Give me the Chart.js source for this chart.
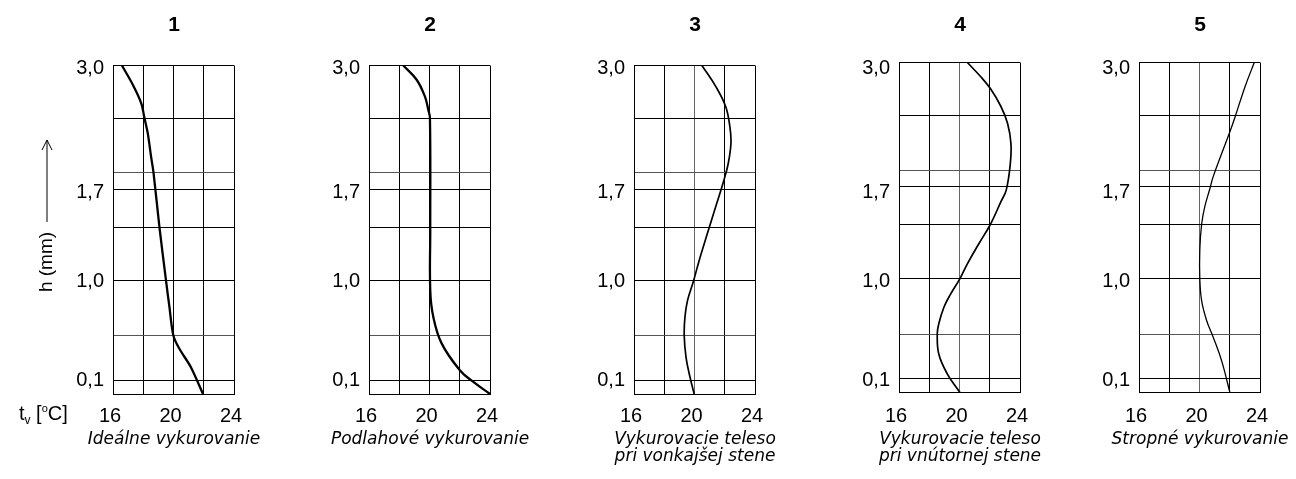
<!DOCTYPE html>
<html>
<head>
<meta charset="utf-8">
<script src="https://cdn.jsdelivr.net/npm/chart.js@4.4.1/dist/chart.umd.min.js"></script>
<style>
  html, body { margin: 0; padding: 0; background: #fff; }
  #wrap { position: relative; width: 1296px; height: 479px; overflow: hidden; background: #fff; }
  #wrap canvas { position: absolute; top: 0; }
  .txt { position: absolute; font-family: 'Liberation Sans', Arial, sans-serif; color: #000; white-space: nowrap; filter: grayscale(1); }
  .txt sub { font-size: 12px; vertical-align: -4px; line-height: 0; }
  .txt sup { font-size: 11px; vertical-align: 8px; line-height: 0; }
</style>
</head>
<body>
<div id="wrap">
  <div class="txt" id="tempLabel" style="left:19px; top:403px; font-size:20px; line-height:20px;">t<sub>v</sub> [<sup>o</sup>C]</div>
  <div class="txt" id="heightLabel" style="left:46px; top:262px; font-size:19px; line-height:20px; transform: translate(-50%, -50%) rotate(-90deg);">h (mm)</div>
  <svg style="position:absolute; left:37px; top:136px;" width="20" height="90">
    <line x1="10" y1="86" x2="10" y2="4" stroke="#000" stroke-width="1"/>
    <polyline points="5,14 10,4 15,14" fill="none" stroke="#000" stroke-width="1"/>
  </svg>
</div>
<script>
// ---- data ----------------------------------------------------------
// temperature axis t_v [°C]
const tempGrid = [16, 18, 20, 22, 24];
const tempLabels = [16, 20, 24];

// height axis: rows of the drawing grid (0 = floor, 6 = ceiling)
const gridRows = [0, 0.25, 1.06, 2.07, 3.05, 3.74, 4.04, 5.03, 6];
const lightRows = [1.06, 4.04];
const heightLabelRows = [0.25, 2.06, 3.68, 5.95];
const heightLabels = ['0,1', '1,0', '1,7', '3,0'];

const panelNumbers = ['1', '2', '3', '4', '5'];
const panelCaptions = [
  ['Ideálne vykurovanie'],
  ['Podlahové vykurovanie'],
  ['Vykurovacie teleso', 'pri vonkajšej stene'],
  ['Vykurovacie teleso', 'pri vnútornej stene'],
  ['Stropné vykurovanie']
];

// 1 – ideal heating
const idealTemp = [16.59, 17.31, 17.87, 18.08, 18.30, 18.52, 18.68, 19.07, 19.51, 19.73, 19.99, 20.38, 21.15, 21.95];
const idealRow  = [6.00, 5.65, 5.31, 5.04, 4.76, 4.33, 4.04, 3.05, 2.06, 1.59, 1.07, 0.83, 0.49, 0.00];

// 2 – floor heating
const floorTemp = [18.27, 19.15, 19.70, 19.92, 20.03, 20.05, 20.05, 20.25, 20.81, 22.02, 22.90, 24.00];
const floorRow  = [6.00, 5.74, 5.43, 5.19, 5.04, 3.00, 1.89, 1.41, 0.92, 0.43, 0.22, 0.00];

// 3 – radiator at the outer wall
const outerTemp = [20.49, 21.40, 22.06, 22.34, 22.41, 22.23, 21.95, 21.40, 20.85, 20.31, 19.93, 19.54, 19.37, 19.32, 19.44, 19.70, 19.98];
const outerRow  = [6.00, 5.62, 5.25, 4.88, 4.58, 4.21, 3.91, 3.42, 2.93, 2.44, 2.06, 1.71, 1.41, 1.07, 0.67, 0.31, 0.00];

// 4 – radiator at the inner wall
const innerTemp = [20.52, 21.41, 22.03, 22.74, 23.18, 23.40, 23.36, 23.09, 22.74, 22.03, 21.29, 20.52, 20.03, 19.41, 18.97, 18.63, 18.53, 18.63, 19.19, 20.03];
const innerRow  = [6.00, 5.74, 5.53, 5.20, 4.89, 4.53, 4.16, 3.68, 3.47, 3.05, 2.71, 2.34, 2.07, 1.79, 1.55, 1.25, 1.07, 0.70, 0.34, 0.00];

// 5 – ceiling heating
const ceilTemp = [23.62, 23.01, 22.34, 22.01, 21.46, 20.90, 20.69, 20.35, 20.14, 20.02, 20.02, 20.14, 20.47, 20.90, 21.46, 22.01];
const ceilRow  = [6.00, 5.56, 5.00, 4.74, 4.34, 3.92, 3.71, 3.38, 3.06, 2.59, 2.07, 1.67, 1.31, 1.01, 0.58, 0.00];

// ---- layout --------------------------------------------------------
const FONT = "'Liberation Sans', Arial, sans-serif";
const CAPTION_FONT = "'DejaVu Sans', 'Open Sans', sans-serif";
const CANVAS_W = 242, CANVAS_H = 479;
const AXIS_W = 60, PLOT_W = 121;
const X_AXIS_H = 30;
const TICK_SIZE = 20;
const TICK_Y = 416.5;
const CAPTION_Y = 440, CAPTION_LH = 17;
// reference frame used to keep the height labels on one line across panels
const BASE_TOP = 65.5, BASE_BOTTOM = 394;

const panels = [
  { temp: idealTemp, row: idealRow, left: 113, top: 65.5, bottom: 394,   width: 2.3, tension: 0.3, lightCols: [] },
  { temp: floorTemp, row: floorRow, left: 369, top: 65.5, bottom: 394,   width: 2.3, tension: 0.4, lightCols: [] },
  { temp: outerTemp, row: outerRow, left: 634, top: 65.5, bottom: 394,   width: 1.7, tension: 0.4, lightCols: [20] },
  { temp: innerTemp, row: innerRow, left: 899, top: 62.5, bottom: 392.5, width: 1.7, tension: 0.4, lightCols: [20] },
  { temp: ceilTemp,  row: ceilRow,  left: 1139, top: 62.5, bottom: 392.5, width: 1.3, tension: 0.4, lightCols: [20] }
];

Chart.defaults.color = '#000';
Chart.defaults.font.family = FONT;

const wrap = document.getElementById('wrap');

panels.forEach((p, i) => {
  const cv = document.createElement('canvas');
  cv.width = CANVAS_W;
  cv.height = CANVAS_H;
  cv.style.left = (p.left - AXIS_W) + 'px';
  wrap.appendChild(cv);

  const caption = panelCaptions[i];
  const capTop = p.bottom + X_AXIS_H;
  const capPadTop = CAPTION_Y - CAPTION_LH / 2 - capTop;
  const capPadBottom = CANVAS_H - capTop - capPadTop - caption.length * CAPTION_LH;
  const tickPad = TICK_Y - p.bottom - TICK_SIZE * 1.2 / 2;

  // label axis range so the labels sit at the same height in every panel
  const basePx = (BASE_BOTTOM - BASE_TOP) / 6;
  const labMin = (BASE_BOTTOM - p.bottom) / basePx;
  const labMax = labMin + (p.bottom - p.top) / basePx;

  new Chart(cv, {
    type: 'line',
    data: {
      datasets: [{
        data: p.temp.map((t, k) => ({ x: t, y: p.row[k] })),
        borderColor: '#000',
        borderWidth: p.width,
        pointRadius: 0,
        tension: p.tension,
        fill: false,
        xAxisID: 'x',
        yAxisID: 'y'
      }]
    },
    options: {
      responsive: false,
      animation: false,
      events: [],
      layout: { padding: 0 },
      plugins: {
        legend: { display: false },
        tooltip: { enabled: false },
        title: {
          display: true,
          text: panelNumbers[i],
          color: '#000',
          font: { family: FONT, size: 21, weight: 'bold', lineHeight: 1.2 },
          padding: { top: 12.4, bottom: p.top - 12.4 - 25.2 }
        },
        subtitle: {
          display: true,
          position: 'bottom',
          text: caption,
          color: '#000',
          font: { family: CAPTION_FONT, size: 17, style: 'italic', lineHeight: CAPTION_LH / 17 },
          padding: { top: capPadTop, bottom: capPadBottom }
        }
      },
      scales: {
        x: {
          type: 'linear',
          position: 'bottom',
          min: tempGrid[0],
          max: tempGrid[tempGrid.length - 1],
          afterBuildTicks: s => { s.ticks = tempGrid.map(v => ({ value: v })); },
          afterFit: s => { s.height = X_AXIS_H; },
          ticks: {
            autoSkip: false,
            maxRotation: 0,
            padding: tickPad,
            labelOffset: -3,
            font: { family: FONT, size: TICK_SIZE },
            callback: v => (tempLabels.includes(v) ? String(v) : '')
          },
          grid: {
            drawTicks: false,
            lineWidth: 1,
            color: c => (c.tick && p.lightCols.includes(c.tick.value) ? '#666' : '#000')
          },
          border: { display: true, color: '#000', width: 1 }
        },
        y: {
          type: 'linear',
          position: 'left',
          weight: 0,
          min: 0,
          max: 6,
          afterBuildTicks: s => { s.ticks = gridRows.map(v => ({ value: v })); },
          afterFit: s => { s.width = 0; },
          ticks: { display: false },
          grid: {
            drawTicks: false,
            lineWidth: 1,
            color: c => (c.tick && lightRows.includes(c.tick.value) ? '#555' : '#000')
          },
          border: { display: true, color: '#000', width: 1 }
        },
        yLab: {
          type: 'linear',
          position: 'left',
          weight: 1,
          min: labMin,
          max: labMax,
          afterBuildTicks: s => { s.ticks = heightLabelRows.map(v => ({ value: v })); },
          afterFit: s => { s.width = AXIS_W; },
          ticks: {
            autoSkip: false,
            padding: 9,
            font: { family: FONT, size: TICK_SIZE },
            callback: (v, idx) => heightLabels[idx]
          },
          grid: { display: false, drawTicks: false },
          border: { display: false }
        },
        spacer: {
          type: 'linear',
          position: 'right',
          afterFit: s => { s.width = CANVAS_W - AXIS_W - PLOT_W; },
          ticks: { display: false },
          grid: { display: false, drawTicks: false },
          border: { display: false }
        }
      }
    }
  });
});
</script>
</body>
</html>
